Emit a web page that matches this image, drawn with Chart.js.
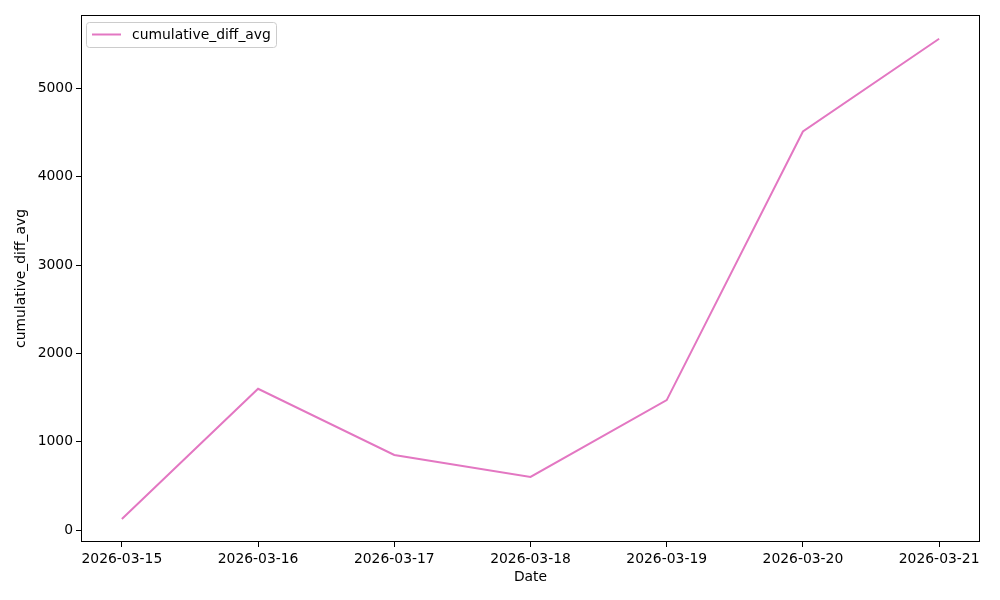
<!DOCTYPE html>
<html>
<head>
<meta charset="utf-8">
<script src="https://cdn.jsdelivr.net/npm/chart.js@4/dist/chart.umd.min.js"></script>
<style>
  body { margin: 0; background: #fff; }
</style>
</head>
<body>
<canvas id="myChart" width="1000" height="600"></canvas>
<script>
// values
const dates = ['2026-03-15', '2026-03-16', '2026-03-17', '2026-03-18', '2026-03-19', '2026-03-20', '2026-03-21'];
const cumulativeDiffAvg = [125, 1599, 850, 601, 1471, 4512, 5561];
const yTicks = [0, 1000, 2000, 3000, 4000, 5000];

const lineColor = '#e377c2';
const fontFamily = 'DejaVu Sans';

// frame round the plot area plus the inner legend, like matplotlib
const framePlugin = {
    id: 'frame',
    afterDraw(chart) {
        const ctx = chart.ctx;
        const a = chart.chartArea;
        ctx.save();
        ctx.strokeStyle = '#000';
        ctx.lineWidth = 1;
        ctx.strokeRect(Math.round(a.left) + 0.5, Math.round(a.top) + 0.5,
            Math.round(a.right - a.left) - 1, Math.round(a.bottom - a.top) - 1);

        // legend box
        const x = a.left + 5, y = a.top + 7, w = 190, h = 25;
        ctx.beginPath();
        ctx.roundRect(x + 0.5, y + 0.5, w, h, 3);
        ctx.fillStyle = 'rgba(255,255,255,0.8)';
        ctx.fill();
        ctx.strokeStyle = '#cccccc';
        ctx.stroke();
        ctx.beginPath();
        ctx.moveTo(x + 6, y + 12.5);
        ctx.lineTo(x + 35, y + 12.5);
        ctx.strokeStyle = lineColor;
        ctx.lineWidth = 2;
        ctx.stroke();
        ctx.fillStyle = '#000';
        ctx.font = '13.9px ' + fontFamily;
        ctx.textBaseline = 'middle';
        ctx.fillText(chart.data.datasets[0].label, x + 46, y + 13);
        ctx.restore();
    }
};

const ctx = document.getElementById('myChart').getContext('2d');
const myChart = new Chart(ctx, {
    type: 'line',
    data: {
        datasets: [{
            label: 'cumulative_diff_avg',
            data: cumulativeDiffAvg.map((v, i) => ({ x: i, y: v })),
            borderColor: lineColor,
            borderWidth: 2,
            pointRadius: 0,
            tension: 0,
            fill: false
        }]
    },
    options: {
        responsive: false,
        animation: false,
        layout: { padding: { top: 15, right: 20, left: 0, bottom: 0 } },
        plugins: {
            legend: { display: false },
            tooltip: { enabled: false }
        },
        scales: {
            x: {
                type: 'linear',
                min: -0.3,
                max: dates.length - 1 + 0.3,
                afterBuildTicks: (scale) => { scale.ticks = dates.map((d, i) => ({ value: i })); },
                afterFit: (scale) => { scale.height = 58; },
                ticks: {
                    autoSkip: false,
                    maxRotation: 0,
                    padding: 4,
                    color: '#000',
                    font: { family: fontFamily, size: 13.9 },
                    callback: (v) => dates[v]
                },
                grid: { drawOnChartArea: false, drawTicks: true, tickLength: 5, tickColor: '#000' },
                border: { display: false },
                title: {
                    display: true,
                    text: 'Date',
                    color: '#000',
                    font: { family: fontFamily, size: 13.9 },
                    padding: { top: 0, bottom: 14 }
                }
            },
            y: {
                min: -135,
                max: 5830,
                afterBuildTicks: (scale) => { scale.ticks = yTicks.map(v => ({ value: v })); },
                afterFit: (scale) => { scale.width = 81; },
                ticks: {
                    padding: 3,
                    color: '#000',
                    font: { family: fontFamily, size: 13.9 },
                    callback: (v) => String(v)
                },
                grid: { drawOnChartArea: false, drawTicks: true, tickLength: 5, tickColor: '#000' },
                border: { display: false },
                title: {
                    display: true,
                    text: 'cumulative_diff_avg',
                    color: '#000',
                    font: { family: fontFamily, size: 13.9 },
                    padding: { top: 13, bottom: 0 }
                }
            }
        }
    },
    plugins: [framePlugin]
});
</script>
</body>
</html>
